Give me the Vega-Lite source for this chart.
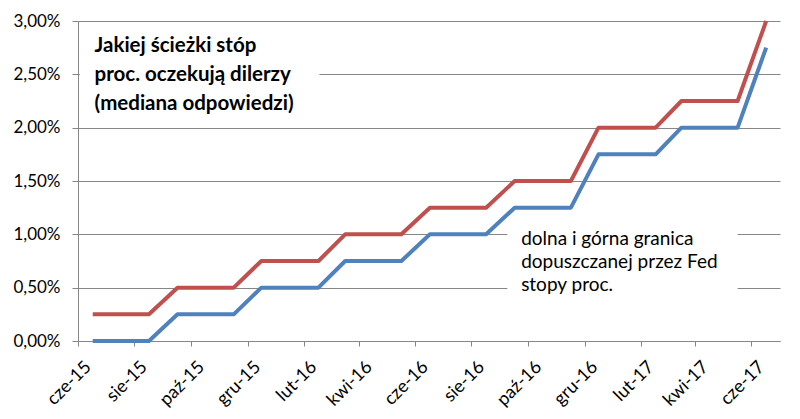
{
  "$schema": "https://vega.github.io/schema/vega-lite/v6.json",
  "width": 702,
  "height": 320,
  "autosize": {"type": "none"},
  "padding": {"left": 78, "top": 21, "right": 20, "bottom": 78},
  "background": "white",
  "config": {"view": {"stroke": null}, "font": "Lato"},
  "data": {
    "values": [
      {"data": "2015-06-01", "gorna": 0.25, "dolna": 0.0},
      {"data": "2015-07-01", "gorna": 0.25, "dolna": 0.0},
      {"data": "2015-08-01", "gorna": 0.25, "dolna": 0.0},
      {"data": "2015-09-01", "gorna": 0.5, "dolna": 0.25},
      {"data": "2015-10-01", "gorna": 0.5, "dolna": 0.25},
      {"data": "2015-11-01", "gorna": 0.5, "dolna": 0.25},
      {"data": "2015-12-01", "gorna": 0.75, "dolna": 0.5},
      {"data": "2016-01-01", "gorna": 0.75, "dolna": 0.5},
      {"data": "2016-02-01", "gorna": 0.75, "dolna": 0.5},
      {"data": "2016-03-01", "gorna": 1.0, "dolna": 0.75},
      {"data": "2016-04-01", "gorna": 1.0, "dolna": 0.75},
      {"data": "2016-05-01", "gorna": 1.0, "dolna": 0.75},
      {"data": "2016-06-01", "gorna": 1.25, "dolna": 1.0},
      {"data": "2016-07-01", "gorna": 1.25, "dolna": 1.0},
      {"data": "2016-08-01", "gorna": 1.25, "dolna": 1.0},
      {"data": "2016-09-01", "gorna": 1.5, "dolna": 1.25},
      {"data": "2016-10-01", "gorna": 1.5, "dolna": 1.25},
      {"data": "2016-11-01", "gorna": 1.5, "dolna": 1.25},
      {"data": "2016-12-01", "gorna": 2.0, "dolna": 1.75},
      {"data": "2017-01-01", "gorna": 2.0, "dolna": 1.75},
      {"data": "2017-02-01", "gorna": 2.0, "dolna": 1.75},
      {"data": "2017-03-01", "gorna": 2.25, "dolna": 2.0},
      {"data": "2017-04-01", "gorna": 2.25, "dolna": 2.0},
      {"data": "2017-05-01", "gorna": 2.25, "dolna": 2.0},
      {"data": "2017-06-01", "gorna": 3.0, "dolna": 2.75}
    ]
  },
  "layer": [
    {
      "transform": [{"fold": ["gorna", "dolna"], "as": ["seria", "wartosc"]}],
      "mark": {"type": "line", "strokeWidth": 4, "strokeJoin": "round"},
      "encoding": {
        "x": {
          "field": "data",
          "type": "temporal",
          "scale": {"domain": [{"year": 2015, "month": 5, "date": 16}, {"year": 2017, "month": 6, "date": 16}]},
          "axis": {
            "title": null,
            "grid": false,
            "values": [
              {"year": 2015, "month": 5, "date": 16},
              {"year": 2015, "month": 7, "date": 16},
              {"year": 2015, "month": 9, "date": 16},
              {"year": 2015, "month": 11, "date": 16},
              {"year": 2016, "month": 1, "date": 16},
              {"year": 2016, "month": 3, "date": 16},
              {"year": 2016, "month": 5, "date": 16},
              {"year": 2016, "month": 7, "date": 16},
              {"year": 2016, "month": 9, "date": 16},
              {"year": 2016, "month": 11, "date": 16},
              {"year": 2017, "month": 1, "date": 16},
              {"year": 2017, "month": 3, "date": 16},
              {"year": 2017, "month": 5, "date": 16}
            ],
            "labelExpr": "['sty','lut','mar','kwi','maj','cze','lip','sie','wrz','paź','lis','gru'][month(datum.value)+1] + '-' + timeFormat(datum.value, '%y')",
            "labelAngle": -45,
            "labelAlign": "right",
            "labelBaseline": "middle",
            "labelOffset": 10,
            "labelPadding": 18,
            "labelFlush": false,
            "labelOverlap": false,
            "labelBound": false,
            "labelFontSize": 18,
            "labelColor": "#000000",
            "domainColor": "#868686",
            "tickColor": "#868686",
            "tickSize": 5
          }
        },
        "y": {
          "field": "wartosc",
          "type": "quantitative",
          "scale": {"domain": [0, 3], "nice": false},
          "axis": {
            "title": null,
            "values": [0, 0.5, 1, 1.5, 2, 2.5, 3],
            "labelExpr": "replace(format(datum.value, '.2f'), '.', ',') + '%'",
            "grid": true,
            "gridColor": "#868686",
            "domainColor": "#868686",
            "tickColor": "#868686",
            "tickSize": 6,
            "labelPadding": 12,
            "labelFontSize": 17,
            "labelColor": "#000000"
          }
        },
        "color": {
          "field": "seria",
          "type": "nominal",
          "scale": {"domain": ["gorna", "dolna"], "range": ["#C0504D", "#4F81BD"]},
          "legend": null
        }
      }
    },
    {
      "data": {"values": [{}]},
      "mark": {"type": "rect", "color": "white"},
      "encoding": {
        "x": {"datum": {"year": 2015, "month": 5, "date": 18}, "type": "temporal"},
        "x2": {"datum": {"year": 2016, "month": 2, "date": 2}},
        "y": {"datum": 2.95, "type": "quantitative"},
        "y2": {"datum": 2.07}
      }
    },
    {
      "data": {"values": [{}]},
      "mark": {"type": "rect", "color": "white"},
      "encoding": {
        "x": {"datum": {"year": 2016, "month": 8, "date": 24}, "type": "temporal"},
        "x2": {"datum": {"year": 2017, "month": 5, "date": 1}},
        "y": {"datum": 1.09, "type": "quantitative"},
        "y2": {"datum": 0.38}
      }
    },
    {
      "data": {"values": [{}]},
      "mark": {"type": "text", "align": "left", "baseline": "alphabetic", "fontWeight": "bold", "fontSize": 20.5, "lineHeight": 29, "color": "#000000",
        "text": ["Jakiej ścieżki stóp", "proc. oczekują dilerzy", "(mediana odpowiedzi)"]},
      "encoding": {
        "x": {"datum": {"year": 2015, "month": 6, "date": 3}, "type": "temporal"},
        "y": {"datum": 2.71, "type": "quantitative"}
      }
    },
    {
      "data": {"values": [{}]},
      "mark": {"type": "text", "align": "left", "baseline": "alphabetic", "fontSize": 19, "lineHeight": 23, "color": "#000000",
        "text": ["dolna i górna granica", "dopuszczanej przez Fed", "stopy proc."]},
      "encoding": {
        "x": {"datum": {"year": 2016, "month": 9, "date": 8}, "type": "temporal"},
        "y": {"datum": 0.9, "type": "quantitative"}
      }
    }
  ]
}
